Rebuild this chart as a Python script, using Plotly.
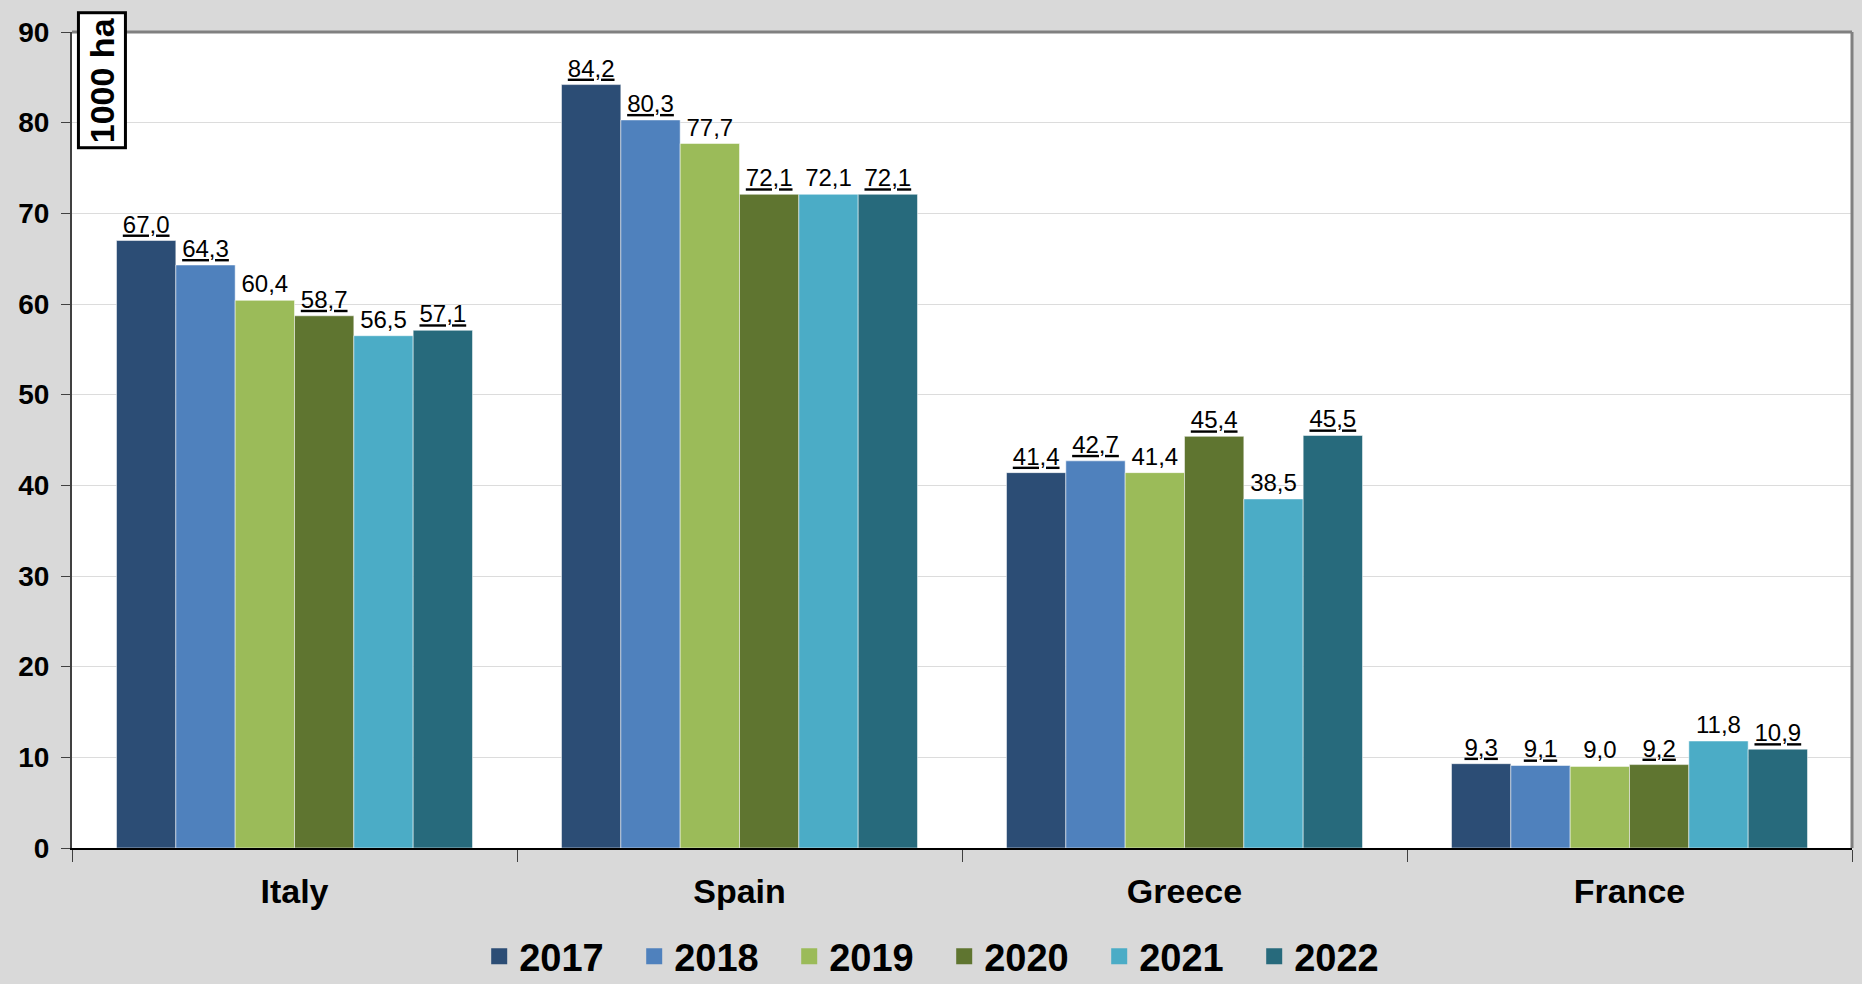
import plotly.graph_objects as go

countries = ["Italy", "Spain", "Greece", "France"]
years = ["2017", "2018", "2019", "2020", "2021", "2022"]
area = {
    "2017": [67.0, 84.2, 41.4, 9.3],
    "2018": [64.3, 80.3, 42.7, 9.1],
    "2019": [60.4, 77.7, 41.4, 9.0],
    "2020": [58.7, 72.1, 45.4, 9.2],
    "2021": [56.5, 72.1, 38.5, 11.8],
    "2022": [57.1, 72.1, 45.5, 10.9],
}
colors = ["#2c4d75", "#4f81bd", "#9bbb59", "#5f7530", "#4bacc6", "#276a7c"]
# in the original some series have underlined value labels
underlined = ["2017", "2018", "2020", "2022"]

FONT = "Arial, Liberation Sans, sans-serif"

fig = go.Figure()

for year, color in zip(years, colors):
    fig.add_trace(go.Bar(
        x=countries,
        y=area[year],
        name=year,
        showlegend=False,
        marker=dict(color=color, line=dict(color="rgba(255,255,255,0.5)", width=1)),
        texttemplate="%{y:.1f}",
        textposition="outside",
        textfont=dict(family=FONT, size=24, color="black",
                      lineposition="under" if year in underlined else "none"),
        cliponaxis=False,
    ))
    # legend entry with a bigger square swatch than the bar default
    fig.add_trace(go.Scatter(
        x=[None], y=[None],
        mode="markers",
        name=year,
        marker=dict(symbol="square", size=18, color=color),
    ))

fig.update_layout(
    width=1862,
    height=984,
    barmode="group",
    bargap=0.2,
    bargroupgap=0,
    separators=", ",
    paper_bgcolor="#d9d9d9",
    plot_bgcolor="white",
    margin=dict(l=72, r=10, t=32, b=136, autoexpand=False),
    font=dict(family=FONT, color="black"),
    xaxis=dict(
        showline=True,
        linecolor="black",
        linewidth=2,
        ticks="outside",
        tickson="boundaries",
        ticklen=12,
        tickcolor="#404040",
        tickfont=dict(size=34, weight="bold"),
        ticklabelstandoff=12,
    ),
    yaxis=dict(
        range=[0, 90],
        dtick=10,
        showline=True,
        linecolor="#404040",
        linewidth=2,
        ticks="outside",
        ticklen=9,
        tickcolor="#404040",
        gridcolor="#dcdcdc",
        gridwidth=1,
        zeroline=False,
        tickfont=dict(size=28, weight="bold"),
        ticklabelstandoff=6,
    ),
    legend=dict(
        orientation="h",
        x=0.49,
        xanchor="center",
        y=-0.133,
        yanchor="middle",
        font=dict(size=38, weight="bold"),
        bgcolor="rgba(0,0,0,0)",
        entrywidth=110,
        entrywidthmode="pixels",
        itemsizing="trace",
    ),
    showlegend=True,
)

# grey frame on top and right of the plot area
fig.add_shape(type="line", xref="paper", yref="paper", x0=0, x1=1, y0=1, y1=1,
              line=dict(color="#808080", width=3))
fig.add_shape(type="line", xref="paper", yref="paper", x0=1, x1=1, y0=0, y1=1,
              line=dict(color="#808080", width=3))

# unit label box
fig.add_annotation(
    xref="paper", yref="paper",
    x=0.0169, y=0.941,
    xanchor="center", yanchor="middle",
    text="<b>1000 ha</b>",
    textangle=-90,
    showarrow=False,
    font=dict(size=34, color="black"),
    bgcolor="white",
    bordercolor="black",
    borderwidth=3,
    borderpad=3,
)

fig.write_html(
    "out.html",
    config={"displayModeBar": False},
    post_script="document.body.style.margin='0';document.body.style.overflow='hidden';",
)
